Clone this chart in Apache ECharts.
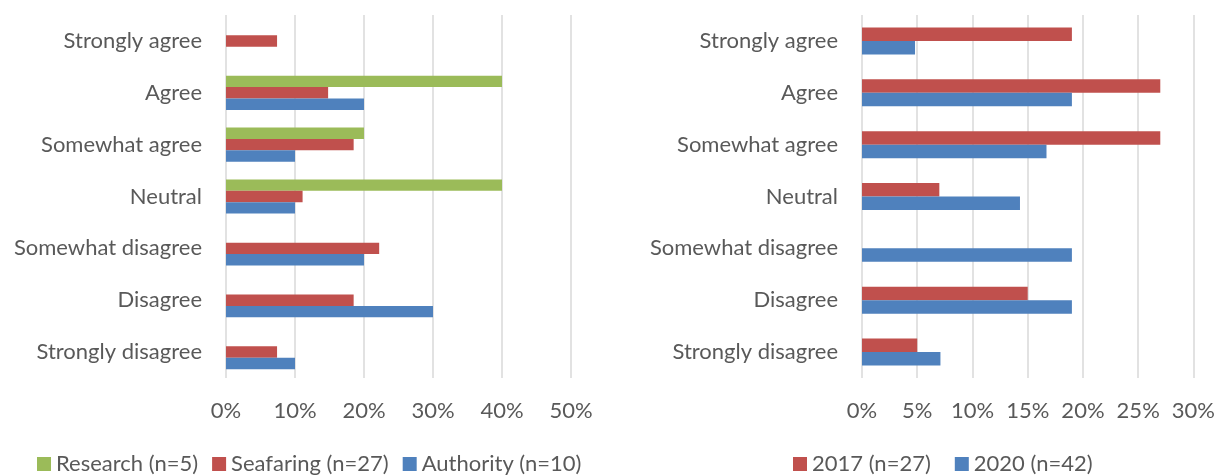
<!DOCTYPE html>
<html>
<head>
<meta charset="utf-8">
<script src="https://cdn.jsdelivr.net/npm/echarts@6/dist/echarts.min.js"></script>
<style>
  html, body { margin: 0; padding: 0; background: #fff; }
  #chart { width: 1218px; height: 475px; }
</style>
</head>
<body>
<div id="chart"></div>
<script>
var categories = ['Strongly agree', 'Agree', 'Somewhat agree', 'Neutral', 'Somewhat disagree', 'Disagree', 'Strongly disagree'];

// left chart, percent by group
var research = [0, 40, 20, 40, 0, 0, 0];
var seafaring = [7.4, 14.8, 18.5, 11.1, 22.2, 18.5, 7.4];
var authority = [0, 20, 10, 10, 20, 30, 10];

// right chart, percent by year
var y2017 = [19, 27, 27, 7, 0, 15, 5];
var y2020 = [4.8, 19, 16.7, 14.3, 19, 19, 7.1];

var leftTicks = { min: 0, max: 50, interval: 10 };
var rightTicks = { min: 0, max: 30, interval: 5 };

var txt = '#595959';
var fontFam = 'Lato, "Open Sans", sans-serif';

function catAxis(gridIndex) {
  return {
    type: 'category',
    gridIndex: gridIndex,
    data: categories,
    inverse: true,
    axisLine: { show: false },
    axisTick: { show: false },
    axisLabel: { color: txt, fontSize: 22, fontFamily: fontFam, margin: 24 }
  };
}

function valAxis(gridIndex, t) {
  return {
    type: 'value',
    gridIndex: gridIndex,
    min: t.min,
    max: t.max,
    interval: t.interval,
    axisLine: { show: false },
    axisTick: { show: false },
    splitLine: { lineStyle: { color: '#d9d9d9', width: 1.5 } },
    axisLabel: { color: txt, fontSize: 22, fontFamily: fontFam, margin: 22, formatter: '{value}%' }
  };
}

var myChart = echarts.init(document.getElementById('chart'));
var option = {
  animation: false,
  grid: [
    { left: 226, width: 345, top: 15, height: 363 },
    { left: 862, width: 335, top: 15, height: 363 }
  ],
  xAxis: [valAxis(0, leftTicks), valAxis(1, rightTicks)],
  yAxis: [catAxis(0), catAxis(1)],
  legend: [
    {
      data: ['Research (n=5)', 'Seafaring (n=27)', 'Authority (n=10)'],
      left: 32, top: 448,
      itemWidth: 14, itemHeight: 14, itemGap: 14,
      icon: 'rect',
      textStyle: { color: txt, fontSize: 22, fontFamily: fontFam }
    },
    {
      data: ['2017 (n=27)', '2020 (n=42)'],
      left: 788, top: 448,
      itemWidth: 14, itemHeight: 14, itemGap: 24,
      icon: 'rect',
      textStyle: { color: txt, fontSize: 22, fontFamily: fontFam }
    }
  ],
  series: [
    { name: 'Research (n=5)', type: 'bar', xAxisIndex: 0, yAxisIndex: 0, data: research,
      itemStyle: { color: '#9bbb59' }, barGap: '0%', barCategoryGap: '34%' },
    { name: 'Seafaring (n=27)', type: 'bar', xAxisIndex: 0, yAxisIndex: 0, data: seafaring,
      itemStyle: { color: '#c0504d' } },
    { name: 'Authority (n=10)', type: 'bar', xAxisIndex: 0, yAxisIndex: 0, data: authority,
      itemStyle: { color: '#4f81bd' } },
    { name: '2017 (n=27)', type: 'bar', xAxisIndex: 1, yAxisIndex: 1, data: y2017,
      itemStyle: { color: '#c0504d' }, barGap: '0%', barCategoryGap: '48%' },
    { name: '2020 (n=42)', type: 'bar', xAxisIndex: 1, yAxisIndex: 1, data: y2020,
      itemStyle: { color: '#4f81bd' } }
  ]
};
myChart.setOption(option);
</script>
</body>
</html>
